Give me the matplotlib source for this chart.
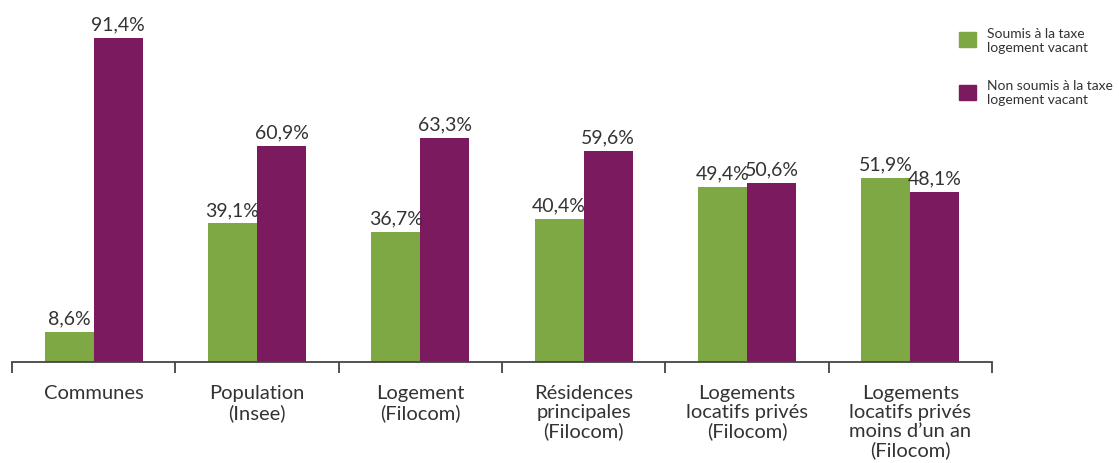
import matplotlib.pyplot as plt
import matplotlib.patches as mpatches
import numpy as np

# Data
categories = ['Communes', 'Population\n(Insee)', 'Logement\n(Filocom)',
              'Résidences\nprincipales\n(Filocom)', 'Logements\nlocatifs privés\n(Filocom)',
              'Logements\nlocatifs privés\nmoins d\u2019un an\n(Filocom)']
soumis = [8.6, 39.1, 36.7, 40.4, 49.4, 51.9]
non_soumis = [91.4, 60.9, 63.3, 59.6, 50.6, 48.1]
series_labels = ['Soumis à la taxe\nlogement vacant', 'Non soumis à la taxe\nlogement vacant']

GREEN = '#7ea843'
PURPLE = '#7b1a5f'
TEXT = '#333333'
FONT = ['Lato', 'DejaVu Sans']

plt.rcParams['font.family'] = FONT

W, H = 1119, 464
fig = plt.figure(figsize=(W / 100, H / 100), dpi=100)
ax = fig.add_axes([12 / W, (H - 363) / H, 980 / W, (363 - 20) / H])

x = np.arange(len(categories))
bw = 0.3
b1 = ax.bar(x - bw / 2, soumis, bw, color=GREEN)
b2 = ax.bar(x + bw / 2, non_soumis, bw, color=PURPLE)

for bars, vals in ((b1, soumis), (b2, non_soumis)):
    for b, v in zip(bars, vals):
        ax.annotate(f'{v:.1f}%'.replace('.', ','),
                    (b.get_x() + b.get_width() / 2, v),
                    xytext=(0, 4), textcoords='offset points',
                    ha='center', va='bottom', fontsize=14, color=TEXT)

ax.set_xlim(-0.5, len(categories) - 0.5)
ax.set_ylim(0, 96.8)

ax.set_xticks(x)
ax.set_xticklabels(categories, fontsize=14.5, color=TEXT, linespacing=1.12)
ax.tick_params(axis='x', which='major', length=0, pad=16)
ax.set_xticks(np.arange(-0.5, len(categories)), minor=True)
ax.tick_params(axis='x', which='minor', length=8, width=1.3, color='#444444')
ax.set_yticks([])

for s in ('top', 'right', 'left'):
    ax.spines[s].set_visible(False)
ax.spines['bottom'].set_color('#444444')
ax.spines['bottom'].set_linewidth(1.3)

handles = [mpatches.Patch(color=GREEN), mpatches.Patch(color=PURPLE)]
fig.legend(handles, series_labels, loc='upper left',
           bbox_to_anchor=(946 / W, 1 - 15 / H), frameon=False,
           fontsize=10, handlelength=1.25, handleheight=1.25,
           labelspacing=1.9, handletextpad=0.8, labelcolor=TEXT)

fig.savefig('out.png', dpi=100)
